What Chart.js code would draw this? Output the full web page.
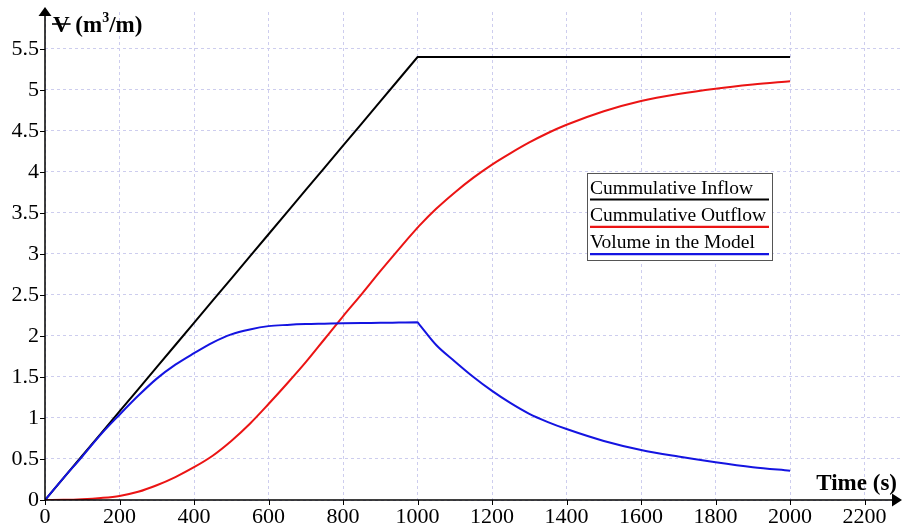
<!DOCTYPE html>
<html>
<head>
<meta charset="utf-8">
<script src="https://cdn.jsdelivr.net/npm/chart.js@4/dist/chart.umd.min.js"></script>
<style>
html, body { margin: 0; padding: 0; background: #fff; }
canvas { display: block; }
</style>
</head>
<body>
<canvas id="volChart" width="904" height="529"></canvas>
<script>
// volume balance chart

const timeSec = [0,50,100,150,200,250,300,350,400,450,500,550,600,650,700,750,800,850,900,950,1000,1005,
  1050,1100,1150,1200,1250,1300,1350,1400,1500,1600,1700,1800,1900,2000];

const inflow = [0,0.27,0.54,0.81,1.08,1.35,1.62,1.89,2.16,2.43,2.70,2.97,3.24,3.51,3.78,4.05,4.32,4.59,4.86,5.13,5.40,5.40,
  5.40,5.40,5.40,5.40,5.40,5.40,5.40,5.40,5.40,5.40,5.40,5.40,5.40,5.40];

const outflow = [0,0.002,0.01,0.025,0.05,0.10,0.18,0.28,0.40,0.54,0.72,0.93,1.17,1.42,1.68,1.96,2.24,2.51,2.79,3.06,3.32,3.345,
  3.55,3.75,3.93,4.09,4.23,4.36,4.475,4.575,4.74,4.865,4.95,5.015,5.065,5.105];

const volume = [0,0.27,0.53,0.80,1.04,1.27,1.48,1.65,1.79,1.92,2.02,2.08,2.12,2.135,2.145,2.15,2.155,2.158,2.16,2.163,2.166,2.139,
  1.89,1.69,1.50,1.33,1.18,1.05,0.95,0.865,0.72,0.61,0.53,0.46,0.40,0.357];

const seriesNames = ["Cummulative Inflow", "Cummulative Outflow", "Volume in the Model"];
const seriesColors = ["#000000", "rgb(235,20,20)", "rgb(20,20,225)"];

const xTicks = [0,200,400,600,800,1000,1200,1400,1600,1800,2000,2200];
const yTicks = [0,0.5,1,1.5,2,2.5,3,3.5,4,4.5,5,5.5];
const yTickLabels = ["0","0.5","1","1.5","2","2.5","3","3.5","4","4.5","5","5.5"];

const SERIF = "'Liberation Serif', 'Times New Roman', serif";

function pts(ys){
  return timeSec.map((t, i) => ({ x: t, y: ys[i] }));
}

/* AXES, ARROWS, TITLES, LEGEND */

const decor = {
  id: "decor",
  afterDraw(chart){
    const ctx = chart.ctx;
    const xs = chart.scales.x;
    const ys = chart.scales.y;
    const x0 = xs.getPixelForValue(0);
    const y0 = ys.getPixelForValue(0);

    ctx.save();
    ctx.strokeStyle = "#000";
    ctx.fillStyle = "#000";
    ctx.lineWidth = 1.5;

    // axis lines
    ctx.beginPath();
    ctx.moveTo(x0, y0);
    ctx.lineTo(x0, 15);
    ctx.moveTo(x0, y0);
    ctx.lineTo(893, y0);
    ctx.stroke();

    // arrows
    ctx.beginPath();
    ctx.moveTo(x0, 7);
    ctx.lineTo(x0 - 6.5, 16);
    ctx.lineTo(x0 + 6.5, 16);
    ctx.closePath();
    ctx.fill();
    ctx.beginPath();
    ctx.moveTo(902, y0);
    ctx.lineTo(892, y0 - 6.5);
    ctx.lineTo(892, y0 + 6.5);
    ctx.closePath();
    ctx.fill();

    // tick marks
    ctx.lineWidth = 1;
    ctx.beginPath();
    xTicks.forEach(v => {
      const px = Math.round(xs.getPixelForValue(v)) + 0.5;
      ctx.moveTo(px, y0);
      ctx.lineTo(px, y0 + 5);
    });
    yTicks.forEach(v => {
      const py = Math.round(ys.getPixelForValue(v)) + 0.5;
      ctx.moveTo(x0 - 5, py);
      ctx.lineTo(x0, py);
    });
    ctx.stroke();

    // y title: V (m3/m) with struck V
    ctx.font = "bold 23px " + SERIF;
    ctx.textBaseline = "alphabetic";
    ctx.textAlign = "left";
    let tx = 53;
    const ty = 32;
    ctx.fillText("V", tx, ty);
    const vw = ctx.measureText("V").width;
    ctx.lineWidth = 1.6;
    ctx.beginPath();
    ctx.moveTo(tx - 1, ty - 8);
    ctx.lineTo(tx + vw + 1, ty - 8);
    ctx.stroke();
    tx += vw + ctx.measureText(" ").width;
    ctx.fillText("(m", tx, ty);
    tx += ctx.measureText("(m").width;
    ctx.font = "bold 14px " + SERIF;
    ctx.fillText("3", tx, ty - 10);
    tx += ctx.measureText("3").width;
    ctx.font = "bold 23px " + SERIF;
    ctx.fillText("/m)", tx, ty);

    // x title
    ctx.textAlign = "right";
    ctx.fillText("Time (s)", 897, 490);

    // legend
    const lx = 587.5, ly = 173.5, lw = 185, lh = 87;
    ctx.fillStyle = "#fff";
    ctx.fillRect(lx, ly, lw, lh);
    ctx.strokeStyle = "#555";
    ctx.lineWidth = 1;
    ctx.strokeRect(lx, ly, lw, lh);
    ctx.font = "19.5px " + SERIF;
    ctx.textAlign = "left";
    seriesNames.forEach((name, i) => {
      const base = 193.5 + i * 27.3;
      ctx.fillStyle = "#000";
      ctx.fillText(name, 590, base);
      ctx.strokeStyle = seriesColors[i];
      ctx.lineWidth = 2.2;
      ctx.beginPath();
      ctx.moveTo(590, base + 6);
      ctx.lineTo(769, base + 6);
      ctx.stroke();
    });

    ctx.restore();
  }
};

const chart = new Chart(document.getElementById("volChart"), {
  type: "line",
  data: {
    datasets: [
      { label: seriesNames[0], data: pts(inflow), borderColor: seriesColors[0], order: 3, tension: 0 },
      { label: seriesNames[1], data: pts(outflow), borderColor: seriesColors[1], order: 2, cubicInterpolationMode: "monotone" },
      { label: seriesNames[2], data: pts(volume), borderColor: seriesColors[2], order: 1, cubicInterpolationMode: "monotone" }
    ]
  },
  options: {
    responsive: false,
    animation: false,
    devicePixelRatio: 1,
    layout: { padding: { top: 12, right: 4, left: 0, bottom: 0 } },
    elements: {
      point: { radius: 0, hoverRadius: 0 },
      line: { borderWidth: 2, fill: false }
    },
    plugins: {
      legend: { display: false },
      tooltip: { enabled: false }
    },
    scales: {
      x: {
        type: "linear",
        min: 0,
        max: 2295,
        afterBuildTicks: s => { s.ticks = xTicks.map(v => ({ value: v })); },
        afterFit: s => { s.height = 29; s.paddingLeft = 0; s.paddingRight = 0; },
        ticks: {
          autoSkip: false,
          maxRotation: 0,
          minRotation: 0,
          padding: 4,
          color: "#000",
          font: { family: SERIF, size: 22 },
          callback: v => String(v)
        },
        grid: { color: "rgb(205,205,238)", lineWidth: 1, drawTicks: false },
        border: { display: false, dash: [3, 3] }
      },
      y: {
        type: "linear",
        min: 0,
        max: 5.95,
        afterBuildTicks: s => { s.ticks = yTicks.map(v => ({ value: v })); },
        afterFit: s => { s.width = 45; s.paddingTop = 0; s.paddingBottom = 0; },
        ticks: {
          autoSkip: false,
          padding: 6,
          color: "#000",
          font: { family: SERIF, size: 22 },
          callback: v => yTickLabels[yTicks.indexOf(v)] ?? String(v)
        },
        grid: { color: "rgb(205,205,238)", lineWidth: 1, drawTicks: false },
        border: { display: false, dash: [3, 3] }
      }
    }
  },
  plugins: [decor]
});
</script>
</body>
</html>
